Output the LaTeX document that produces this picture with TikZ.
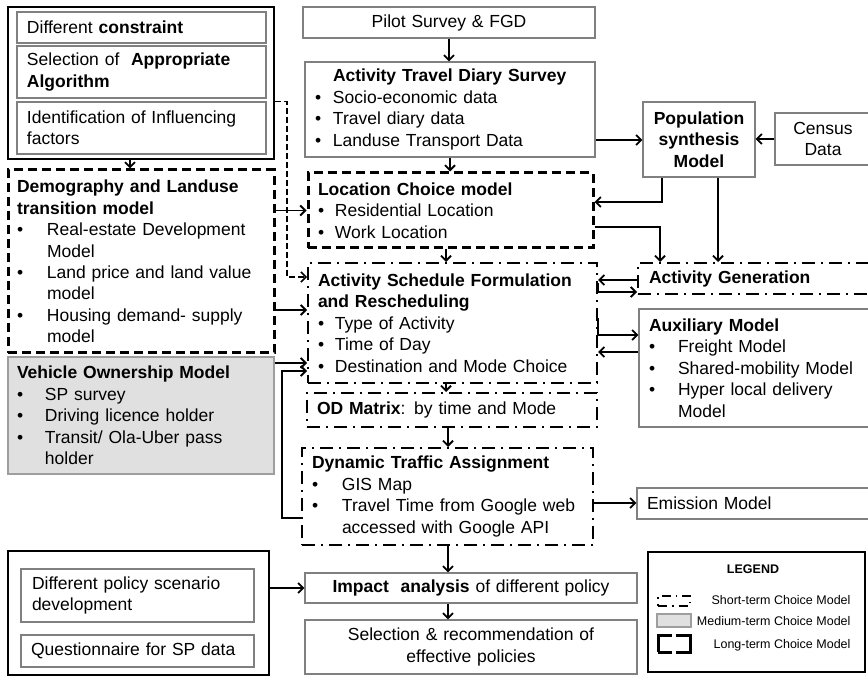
\documentclass[tikz,border=0pt]{standalone}
\usepackage{fontspec}
\setmainfont{Liberation Sans}
\usetikzlibrary{arrows.meta}
\newcommand{\bl}[1]{\makebox[#1][l]{\textbullet}}

\begin{document}
\begin{tikzpicture}[x=1pt, y=-1pt,
  every node/.style={inner ysep=0pt, align=left, font=\fontsize{17.5}{21.4}\selectfont},
  bx/.style n args={3}{text width=#1pt, inner xsep=#2pt, minimum height=#3pt},
  box/.style={draw=black!50, line width=1.2pt},
  grpbox/.style={draw=black, line width=2.8pt, inner sep=0pt},
  longbox/.style={draw=black, line width=3pt, dash pattern=on 9pt off 5pt},
  shortbox/.style={draw=black, line width=2pt, dash pattern=on 13pt off 6pt on 2pt off 6pt},
  medbox/.style={draw=black!38, fill=black!12, line width=2.5pt},
  legtext/.style={anchor=east, font=\fontsize{12.5}{15}\selectfont},
  arr/.style={draw=black, line width=1.8pt, -{Straight Barb[length=5pt,width=10pt]}}]
	\useasboundingbox (0,0) rectangle (868,676);
	\clip (0,0) rectangle (868,676);
	
	\node[grpbox, minimum width=266pt, minimum height=152pt] (grp1) at (141,83){};
	\node[box, bx={229}{10}{31}] (dc) at (141.5,27.5){Different \textbf{constraint}};
	\node[box, bx={229}{10}{52}] (sel) at (141.5,72){Selection of~ \textbf{Appropriate}\\\textbf{Algorithm}};
	\node[box, bx={229}{10}{52}] (idf) at (141.5,128){Identification of Influencing\\factors};
	
	\node[longbox, bx={248}{9}{183}] (demo) at (141,261.5){\textbf{Demography and Landuse}\\\textbf{transition model}\\
		\bl{30pt}Real-estate Development\\\hspace*{30pt}Model\\
		\bl{30pt}Land price and land value\\\hspace*{30pt}model\\
		\bl{30pt}Housing demand- supply\\\hspace*{30pt}model};
	\node[medbox, bx={248}{9}{117}] (veh) at (141,415.5){\textbf{Vehicle Ownership Model}\\
		\bl{28pt}SP survey\\
		\bl{28pt}Driving licence holder\\
		\bl{28pt}Transit/ Ola-Uber pass\\\hspace*{28pt}holder};
	
	\node[box, bx={272}{10}{31}, align=center] (pilot) at (449,22.5){Pilot Survey \& FGD};
	\node[box, bx={270}{10}{95}] (atds) at (450,109.5){\hspace*{18pt}\textbf{Activity Travel Diary Survey}\\
		\bl{18pt}Socio-economic data\\
		\bl{18pt}Travel diary data\\
		\bl{18pt}Landuse Transport Data};
	\node[longbox, bx={265}{10}{75}] (loc) at (450.5,210.5){\textbf{Location Choice model}\\
		\bl{17pt}Residential Location\\
		\bl{17pt}Work Location};
	\node[shortbox, bx={269}{10}{120}] (sch) at (452.5,323){\textbf{Activity Schedule Formulation}\\\textbf{and Rescheduling}\\
		\bl{17pt}Type of Activity\\
		\bl{17pt}Time of Day\\
		\bl{17pt}Destination and Mode Choice};
	\node[shortbox, bx={270}{10}{34}] (od) at (452,410){\textbf{OD Matrix}: by time and Mode};
	\node[shortbox, bx={271}{10}{97}] (dta) at (447.5,496.5){\textbf{Dynamic Traffic Assignment}\\
		\bl{30pt}GIS Map\\
		\bl{30pt}Travel Time from Google web\\\hspace*{30pt}accessed with Google API};
	\node[box, bx={312}{10}{30}, align=center] (imp) at (471,588){\textbf{Impact~ analysis} of different policy};
	\node[box, bx={312}{10}{54}, align=center] (selp) at (471,647){Selection \& recommendation of\\effective policies};
	
	\node[box, bx={104}{4}{75}, align=center] (pop) at (699,139.5){\textbf{Population}\\\textbf{synthesis}\\\textbf{Model}};
	\node[box, bx={88}{4}{52}, align=center] (cen) at (823,139){Census\\Data};
	\node[shortbox, bx={240}{11}{31}] (gen) at (769,278.5){\textbf{Activity Generation}};
	\node[box, bx={241}{10}{118}] (aux) at (769.5,368){\textbf{Auxiliary Model}\\
		\bl{29pt}Freight Model\\
		\bl{29pt}Shared-mobility Model\\
		\bl{29pt}Hyper local delivery\\\hspace*{29pt}Model};
	\node[box, bx={243}{10}{31}] (emi) at (768.5,503.5){Emission Model};
	
	\node[grpbox, minimum width=261pt, minimum height=124pt] (grp2) at (138.5,613){};
	\node[box, bx={211}{11}{53}] (pol) at (137.5,595.5){Different policy scenario\\development};
	\node[box, bx={213}{10}{32}] (que) at (137.5,651){Questionnaire for SP data};
	
	\node[grpbox, minimum width=217pt, minimum height=120pt] (leg) at (756.5,612){};
	\node[font=\fontsize{12.5}{15}\selectfont\bfseries] (legt) at (753,569){LEGEND};
	\node[draw=black, line width=2pt, dash pattern=on 9pt off 5pt on 1.5pt off 5pt, minimum width=32pt, minimum height=10pt, inner sep=0pt] (sym1) at (674,600.5){};
	\node[medbox, line width=2pt, minimum width=34pt, minimum height=13pt, inner sep=0pt] (sym2) at (674,620.5){};
	\node[longbox, dash pattern=on 14pt off 4pt on 45pt off 4pt on 40pt off 0pt, minimum width=32pt, minimum height=17pt, inner sep=0pt] (sym3) at (674,643.5){};
	\node[legtext] (leg1) at (854,600){Short-term Choice Model};
	\node[legtext] (leg2) at (854,621){Medium-term Choice Model};
	\node[legtext] (leg3) at (854,645){Long-term Choice Model};
	
	\path (grp1.south -| 130,0) edge[arr] (demo.north -| 130,0);
	\draw[arr, line width=1.5pt, dash pattern=on 6pt off 3pt] (grp1.east |- idf.north) -| (287,277) -- (sch.west |- 0,277);
	\path (demo.east |- loc.west) edge[arr] (loc.west);
	\path (demo.east |- 0,310) edge[arr] (sch.west |- 0,310);
	\path (veh.east |- 0,363) edge[arr] (sch.west |- 0,363);
	\draw[arr] (dta.west |- 0,518) -| (282,371) -- (sch.west |- 0,371);
	
	\path (pilot.south) edge[arr] (pilot.south |- atds.north);
	\path (atds.south) edge[arr] (atds.south |- loc.north);
	\path (loc.south -| 446,0) edge[arr] (sch.north -| 446,0);
	\path (sch.south -| 446,0) edge[arr] (od.north -| 446,0);
	\path (od.south -| 448,0) edge[arr] (dta.north -| 448,0);
	\path (dta.south -| 448,0) edge[arr] (imp.north -| 448,0);
	\path (imp.south -| 448,0) edge[arr] (selp.north -| 448,0);
	
	\path (atds.east |- 0,140) edge[arr] (pop.west |- 0,140);
	\path (cen.west) edge[arr] (pop.east |- cen.west);
	\draw[arr] (pop.south -| 662,0) |- (loc.east |- 0,202);
	\draw[arr] (loc.east |- 0,227) -| (gen.north -| 660,0);
	\path (pop.south -| 718,0) edge[arr] (gen.north -| 718,0);
	\path (gen.west |- 0,280) edge[arr] (sch.east |- 0,280);
	\draw[arr] (sch.east |- 0,283) |- (gen.west |- 0,292);
	\draw[arr] (sch.east |- 0,318) |- (aux.west |- 0,335);
	\path (aux.west |- 0,352) edge[arr] (sch.east |- 0,352);
	\path (dta.east |- 0,503) edge[arr] (emi.west |- 0,503);
	\path (grp2.east |- 0,588) edge[arr] (imp.west |- 0,588);
\end{tikzpicture}
\end{document}
